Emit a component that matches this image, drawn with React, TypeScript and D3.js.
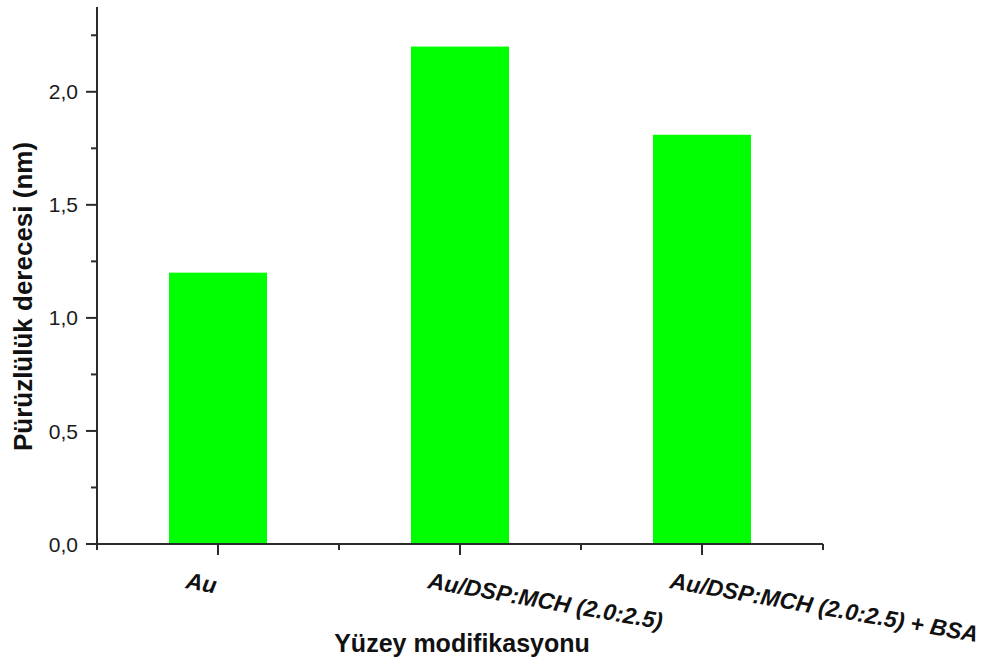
import React from "react";
import * as d3 from "d3";

const categories = ["Au", "Au/DSP:MCH (2.0:2.5)", "Au/DSP:MCH (2.0:2.5) + BSA"];
const values = [1.2, 2.2, 1.81];
const yMajorTicks = [0, 0.5, 1.0, 1.5, 2.0];
const yMinorTicks = [0.25, 0.75, 1.25, 1.75, 2.25];
const xMinorTicks = [0.5, 1.5, 2.5, 3.5];
const yTitle = "Pürüzlülük derecesi (nm)";
const xTitle = "Yüzey modifikasyonu";

const W = 982;
const H = 664;
const axisColor = "#2b2b2b";
const font = "'Liberation Sans', Arial, sans-serif";

export default function App() {
  const x = d3.scaleLinear().domain([0.5, 3.5]).range([97, 823]);
  const y = d3.scaleLinear().domain([0, 2.375]).range([544, 7]);
  const barW = x(1.405) - x(1);
  const fmt = (v: number) => d3.format(".1f")(v).replace(".", ",");

  return (
    <div style={{ position: "absolute", left: 0, top: 0 }}>
      <svg width={W} height={H} viewBox={`0 0 ${W} ${H}`} style={{ display: "block", background: "#fff" }}>
        {/* bars */}
        {values.map((v, i) => (
          <rect
            key={i}
            x={x(i + 1) - barW / 2}
            y={y(v)}
            width={barW}
            height={y(0) - y(v)}
            fill="#00FF00"
          />
        ))}
        {/* y axis */}
        <line x1={x(0.5)} x2={x(0.5)} y1={y(2.375)} y2={y(0) + 5} stroke={axisColor} strokeWidth={2} />
        {yMajorTicks.map((t) => (
          <g key={"ym" + t}>
            <line x1={x(0.5) - 11} x2={x(0.5)} y1={y(t)} y2={y(t)} stroke={axisColor} strokeWidth={2} />
            <text
              x={x(0.5) - 19}
              y={y(t)}
              dy="0.36em"
              textAnchor="end"
              fontFamily={font}
              fontSize={21}
              fill="#1a1a1a"
            >
              {fmt(t)}
            </text>
          </g>
        ))}
        {yMinorTicks.map((t) => (
          <line key={"yn" + t} x1={x(0.5) - 6} x2={x(0.5)} y1={y(t)} y2={y(t)} stroke={axisColor} strokeWidth={2} />
        ))}
        {/* x axis */}
        <line x1={x(0.5)} x2={x(3.5)} y1={y(0)} y2={y(0)} stroke={axisColor} strokeWidth={2} />
        {categories.map((c, i) => (
          <line key={"xm" + i} x1={x(i + 1)} x2={x(i + 1)} y1={y(0)} y2={y(0) + 11} stroke={axisColor} strokeWidth={2} />
        ))}
        {xMinorTicks.map((t) => (
          <line key={"xn" + t} x1={x(t)} x2={x(t)} y1={y(0)} y2={y(0) + 6} stroke={axisColor} strokeWidth={2} />
        ))}
        {categories.map((c, i) => (
          <text
            key={"xl" + i}
            transform={`translate(${x(i + 1) - 33},${y(0) + 44}) rotate(10)`}
            fontFamily={font}
            fontSize={23}
            fontWeight="bold"
            fontStyle="italic"
            fill="#111"
          >
            {c}
          </text>
        ))}
        {/* titles */}
        <text
          transform={`translate(32,${(140 + 453) / 2}) rotate(-90)`}
          textAnchor="middle"
          fontFamily={font}
          fontSize={26}
          fontWeight="bold"
          fill="#111"
        >
          {yTitle}
        </text>
        <text
          x={(332 + 592) / 2}
          y={652}
          textAnchor="middle"
          fontFamily={font}
          fontSize={25}
          fontWeight="bold"
          fill="#111"
        >
          {xTitle}
        </text>
      </svg>
    </div>
  );
}
